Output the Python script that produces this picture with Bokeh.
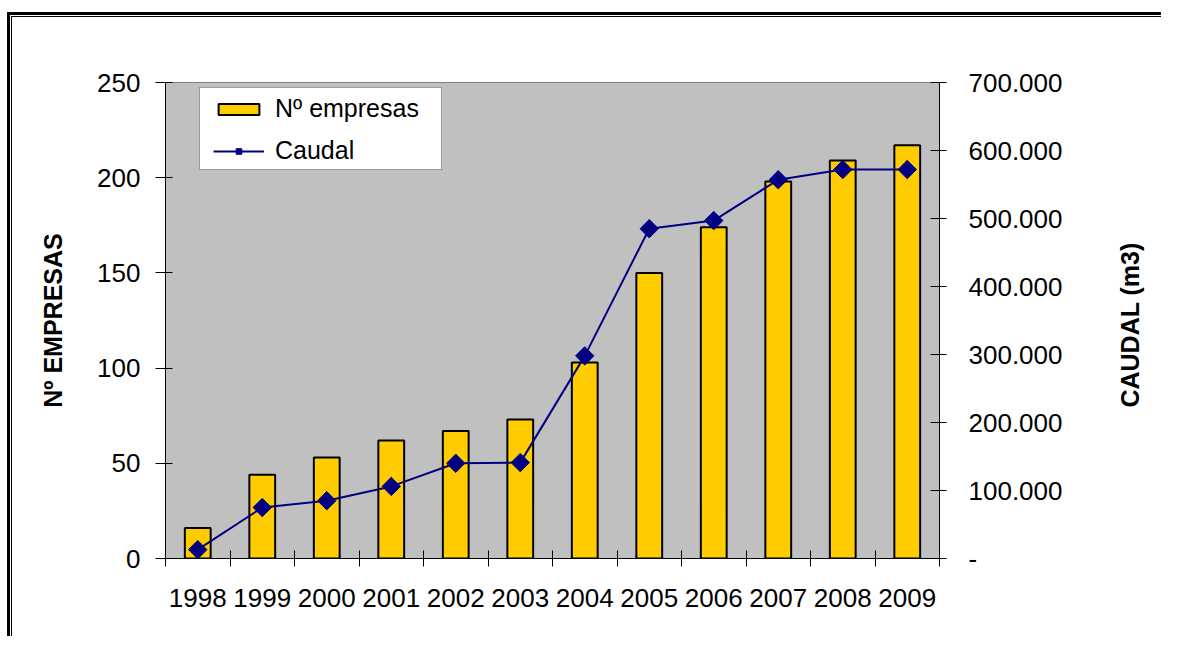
import math
from bokeh.plotting import figure
from bokeh.models import (Range1d, LinearAxis, FixedTicker, Legend, LegendItem,
                          BoxAnnotation)
from bokeh.embed import file_html
from bokeh.resources import INLINE

# ---- data ----
years = ["1998", "1999", "2000", "2001", "2002", "2003",
         "2004", "2005", "2006", "2007", "2008", "2009"]
empresas = [16, 44, 53, 62, 67, 73, 103, 150, 174, 198, 209, 217]
caudal = [13000, 75000, 85000, 106000, 140000, 141000,
          298000, 485000, 497000, 557000, 572000, 572000]
left_ticks = [0, 50, 100, 150, 200, 250]
right_ticks = [0, 100000, 200000, 300000, 400000, 500000, 600000, 700000]
right_labels = ["-", "100.000", "200.000", "300.000", "400.000",
                "500.000", "600.000", "700.000"]
right_title = "CAUDAL (m3)"

FONT = "Liberation Sans"
YELLOW = "#FFCC00"
NAVY = "#000080"

xc = [i + 0.5 for i in range(len(years))]
bounds = list(range(len(years) + 1))

W, H = 1161, 636
p = figure(width=W, height=H, x_range=Range1d(0, len(years)),
           y_range=Range1d(0, 250), output_backend="svg", toolbar_location=None,
           x_axis_type=None, y_axis_type=None,
           min_border_left=165, min_border_right=W - 941,
           min_border_top=82, min_border_bottom=H - 558,
           background_fill_color="#C0C0C0", border_fill_alpha=0)
# outer double frame of the chart (left and top edges visible)
p.styles = {"box-shadow": ("inset 7px 12px 0 0 white, inset 10px 15px 0 0 black, "
                           "inset 11px 16px 0 0 white, inset 12px 17px 0 0 black"),
            "background-color": "white"}
p.outline_line_color = "#808080"
p.outline_line_width = 1
p.xgrid.visible = False
p.ygrid.visible = False
p.extra_y_ranges = {"caudal": Range1d(0, 700000)}

# x axis: labels at centres, ticks at category boundaries
xaxis = LinearAxis(ticker=FixedTicker(ticks=xc, minor_ticks=bounds),
                   major_label_overrides={x: y for x, y in zip(xc, years)},
                   major_tick_in=0, major_tick_out=0,
                   minor_tick_in=8, minor_tick_out=8,
                   minor_tick_line_color="black", minor_tick_line_width=1,
                   axis_line_color="black", axis_line_width=1,
                   major_label_standoff=22,
                   major_label_text_font=FONT, major_label_text_font_size="26px",
                   major_label_text_color="black")
p.add_layout(xaxis, "below")

yaxis = LinearAxis(ticker=FixedTicker(ticks=left_ticks),
                   major_tick_in=7, major_tick_out=10,
                   minor_tick_line_color=None,
                   major_tick_line_color="black",
                   axis_line_color="black", axis_line_width=1,
                   major_label_standoff=15,
                   major_label_text_font=FONT, major_label_text_font_size="26px",
                   major_label_text_color="black",
                   axis_label="Nº EMPRESAS", axis_label_standoff=27,
                   axis_label_text_font=FONT, axis_label_text_font_size="25px",
                   axis_label_text_font_style="bold", axis_label_text_color="black")
p.add_layout(yaxis, "left")

raxis = LinearAxis(y_range_name="caudal", ticker=FixedTicker(ticks=right_ticks),
                   major_label_overrides=dict(zip(right_ticks, right_labels)),
                   major_tick_in=9, major_tick_out=7,
                   minor_tick_line_color=None,
                   major_tick_line_color="black",
                   axis_line_color="black", axis_line_width=1,
                   major_label_standoff=22,
                   major_label_text_font=FONT, major_label_text_font_size="26px",
                   major_label_text_color="black")
p.add_layout(raxis, "right")

# title of the right axis, reading bottom-to-top, drawn as a rotated label
# anchored at its start (placement only)
TITLE_ANCHOR = 222000
rtitle = LinearAxis(y_range_name="caudal", ticker=FixedTicker(ticks=[TITLE_ANCHOR]),
                    major_label_overrides={TITLE_ANCHOR: right_title},
                    major_label_orientation=math.pi / 2,
                    axis_line_color=None, major_tick_line_color=None,
                    minor_tick_line_color=None,
                    major_tick_in=0, major_tick_out=0,
                    minor_tick_in=0, minor_tick_out=0,
                    major_label_standoff=65,
                    major_label_text_font=FONT, major_label_text_font_size="25px",
                    major_label_text_font_style="bold",
                    major_label_text_color="black")
p.add_layout(rtitle, "right")

bars = p.vbar(x=xc, top=empresas, width=0.4, fill_color=YELLOW,
              line_color="black", line_width=2)
line = p.line(xc, caudal, y_range_name="caudal", line_color=NAVY, line_width=2)
marks = p.scatter(xc, caudal, y_range_name="caudal", marker="square",
                  angle=math.pi / 4, size=13, fill_color=NAVY, line_color=NAVY)

# legend background box
p.add_layout(BoxAnnotation(left=199, right=441, top=87, bottom=169,
                           left_units="canvas", right_units="canvas",
                           top_units="canvas", bottom_units="canvas",
                           fill_color="white", fill_alpha=1,
                           line_color="black", line_width=1, level="overlay"))

legend = Legend(items=[LegendItem(label="Nº empresas", renderers=[bars]),
                       LegendItem(label="Caudal", renderers=[line, marks])],
                location=(48, 393), glyph_width=51, glyph_height=14,
                label_text_font=FONT, label_text_font_size="25px",
                label_text_color="black", label_standoff=11,
                padding=7, spacing=13, margin=0,
                border_line_color=None, background_fill_alpha=0)
p.add_layout(legend, "center")

open("out.html", "w").write(file_html(p, INLINE))
